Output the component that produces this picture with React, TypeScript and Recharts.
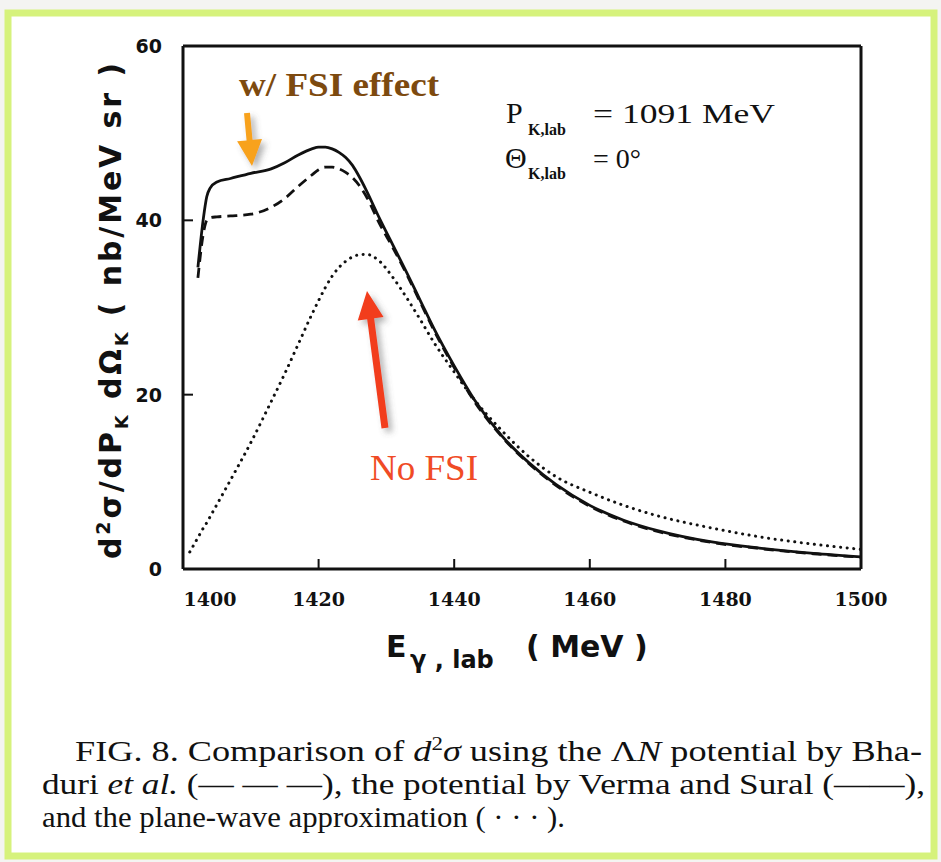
import { LineChart, Line, XAxis, YAxis } from 'recharts';

// photon lab energy (MeV)
const energy = [
  1401, 1402.2, 1403, 1403.5, 1404, 1405, 1407, 1410, 1413, 1415, 1417, 1419, 1420, 1421, 1422,
  1423, 1424, 1425, 1426, 1427, 1429, 1431, 1433, 1435, 1437, 1440, 1443, 1447, 1451, 1455,
  1460, 1465, 1470, 1478, 1485, 1493, 1500,
];

// d2sigma, Verma & Sural potential (solid)
const vermaSural = [
  null, 34.6, 40.2, 42.7, 43.7, 44.4, 44.8, 45.4, 45.9, 46.6, 47.5, 48.2, 48.4, 48.4, 48.2,
  47.8, 47.2, 46.3, 45.0, 43.5, 40.2, 37.1, 34.0, 30.8, 27.6, 23.3, 19.4, 15.3, 12.2, 9.7,
  7.3, 5.6, 4.4, 3.1, 2.4, 1.8, 1.4,
];

// d2sigma, Bhaduri et al. potential (dashed)
const bhaduri = [
  null, 33.4, 38.5, 40.0, 40.3, 40.4, 40.5, 40.7, 41.5, 42.5, 43.9, 45.2, 45.8, 46.1, 46.1,
  45.9, 45.5, 44.9, 44.0, 42.8, 39.6, 36.8, 33.8, 30.6, 27.4, 23.1, 19.2, 15.2, 12.1, 9.6,
  7.2, 5.5, 4.3, 3.05, 2.35, 1.75, 1.35,
];

// d2sigma, plane-wave approximation (dotted)
const planeWave = [
  1.95, 3.6, 4.7, 5.3, 6.0, 7.4, 10.2, 14.5, 19.2, 22.4, 25.8, 29.2, 30.8, 32.3, 33.6,
  34.6, 35.3, 35.8, 36.05, 36.1, 35.3, 33.4, 31.1, 28.6, 26.0, 22.6, 19.4, 15.9, 12.9, 10.6,
  8.8, 7.3, 6.1, 4.7, 3.7, 2.85, 2.25,
];

const energyTicks = [1400, 1420, 1440, 1460, 1480, 1500];
const sigmaTicks = [0, 20, 40, 60];

const rows = energy.map((e, i) => ({
  e,
  solid: vermaSural[i],
  dashed: bhaduri[i],
  dotted: planeWave[i],
}));

const INK = '#111';
const frame = { stroke: INK, strokeWidth: 3 };
const tickStroke = { stroke: INK, strokeWidth: 2 };

function EnergyTick({ x, y, payload }: any) {
  // first label is nudged right so it clears the "0" on the y axis
  const dx = payload.value === 1400 ? 27 : 0;
  return (
    <text x={x + dx} y={y} dy="0.75em" textAnchor="middle" fontFamily="DejaVu Serif"
      fontWeight="bold" fontSize={19} fill={INK}>
      {payload.value}
    </text>
  );
}

function SigmaTick({ x, y, payload }: any) {
  return (
    <text x={x} y={y} dy="0.36em" textAnchor="end" fontFamily="DejaVu Sans"
      fontWeight="bold" fontSize={19} fill={INK}>
      {payload.value}
    </text>
  );
}

function arrowPath(x1: number, y1: number, x2: number, y2: number, shaft: number, headW: number, headL: number) {
  const len = Math.hypot(x2 - x1, y2 - y1);
  const ux = (x2 - x1) / len;
  const uy = (y2 - y1) / len;
  const px = -uy;
  const py = ux;
  const bx = x2 - ux * headL;
  const by = y2 - uy * headL;
  const pts = [
    [x1 + (px * shaft) / 2, y1 + (py * shaft) / 2],
    [bx + (px * shaft) / 2, by + (py * shaft) / 2],
    [bx + (px * headW) / 2, by + (py * headW) / 2],
    [x2, y2],
    [bx - (px * headW) / 2, by - (py * headW) / 2],
    [bx - (px * shaft) / 2, by - (py * shaft) / 2],
    [x1 - (px * shaft) / 2, y1 - (py * shaft) / 2],
  ];
  return pts.map((p) => p.join(',')).join(' ');
}

export default function App() {
  return (
    <div style={{ position: 'absolute', left: 0, top: 0, width: 941, height: 862 }}>
      <svg width={941} height={862} style={{ position: 'absolute', left: 0, top: 0 }}>
        <rect x={0} y={0} width={941} height={862} fill="#f4f4f2" />
        <rect x={8} y={13} width={926} height={843} fill="#fff" stroke="#d6f27c" strokeWidth={7} />
      </svg>

      <div style={{ position: 'absolute', left: 0, top: 0 }}>
        <LineChart width={941} height={862} data={rows}
          margin={{ top: 45, right: 79, bottom: 253, left: 123 }}>
          <XAxis dataKey="e" type="number" domain={[1400, 1500]} ticks={energyTicks} interval={0}
            height={40} tickSize={-10} tickMargin={33} axisLine={frame} tickLine={tickStroke}
            tick={<EnergyTick />} />
          <XAxis xAxisId="top" orientation="top" dataKey="e" type="number" domain={[1400, 1500]}
            ticks={energyTicks} interval={0} height={1} tickSize={-10} axisLine={frame}
            tickLine={tickStroke} tick={false} />
          <YAxis type="number" domain={[0, 60]} ticks={sigmaTicks} interval={0} width={60}
            tickSize={-10} tickMargin={31} axisLine={frame} tickLine={tickStroke}
            tick={<SigmaTick />} />
          <YAxis yAxisId="right" orientation="right" type="number" domain={[0, 60]}
            ticks={sigmaTicks} interval={0} width={1} tickSize={-10} axisLine={frame}
            tickLine={tickStroke} tick={false} />
          <Line type="monotone" dataKey="dotted" stroke={INK} strokeWidth={3}
            strokeDasharray="0.1 6.5" strokeLinecap="round" dot={false} activeDot={false}
            isAnimationActive={false} />
          <Line type="monotone" dataKey="dashed" stroke={INK} strokeWidth={2.8}
            strokeDasharray="10 6" dot={false} activeDot={false} isAnimationActive={false} />
          <Line type="monotone" dataKey="solid" stroke={INK} strokeWidth={2.8}
            dot={false} activeDot={false} isAnimationActive={false} />
        </LineChart>
      </div>

      <svg width={941} height={862} style={{ position: 'absolute', left: 0, top: 0, pointerEvents: 'none' }}>
        <defs>
          <filter id="shade" x="-50%" y="-50%" width="200%" height="200%">
            <feDropShadow dx={4} dy={4} stdDeviation={3} floodColor="#555" floodOpacity={0.45} />
          </filter>
        </defs>

        {/* axis titles */}
        <text transform="translate(121,311) rotate(-90)" textAnchor="middle" fontFamily="DejaVu Sans"
          fontWeight="bold" fontSize={30} fill={INK} textLength={496} lengthAdjust="spacing">
          d<tspan dy={-11} fontSize={19}>2</tspan>
          <tspan dy={11}>σ/dP</tspan>
          <tspan dy={7} fontSize={18}>K</tspan>
          <tspan dy={-7}> dΩ</tspan>
          <tspan dy={7} fontSize={18}>K</tspan>
          <tspan dy={-7}> ( nb/MeV sr )</tspan>
        </text>
        <g fontFamily="DejaVu Sans" fontWeight="bold" fill={INK}>
          <text x={386} y={657} fontSize={30}>E</text>
          <text x={410} y={668} fontSize={24}>γ , lab</text>
          <text x={526} y={657} fontSize={30}>( MeV )</text>
        </g>

        {/* kinematics */}
        <g fontFamily="Liberation Serif" fill={INK}>
          <text x={506} y={123} fontSize={30}>P</text>
          <text x={528} y={135} fontSize={16} fontWeight="bold">K,lab</text>
          <text x={593} y={123} fontSize={28} textLength={182} lengthAdjust="spacingAndGlyphs">= 1091 MeV</text>
          <text x={505} y={168} fontSize={30}>Θ</text>
          <text x={528} y={179} fontSize={16} fontWeight="bold">K,lab</text>
          <text x={593} y={168} fontSize={28}>= 0°</text>
        </g>

        {/* annotations */}
        <text x={239} y={96} fontFamily="Liberation Serif" fontWeight="bold" fontSize={34}
          fill="#7d4a0f" textLength={200} lengthAdjust="spacingAndGlyphs">w/ FSI effect</text>
        <polygon points={arrowPath(247, 113, 252, 166, 6, 25, 26)} fill="#f8a21c" filter="url(#shade)" />
        <polygon points={arrowPath(385, 428, 367, 291, 7, 26, 28)} fill="#f23d1c" filter="url(#shade)" />
        <text x={370} y={480} fontFamily="Liberation Serif" fontSize={36} fill="#f04b25"
          textLength={108} lengthAdjust="spacingAndGlyphs">No FSI</text>

        {/* caption */}
        <g fontFamily="Liberation Serif" fontSize={30} fill={INK}>
          <text x={75} y={761} textLength={847} lengthAdjust="spacingAndGlyphs">
            FIG. 8.  Comparison of <tspan fontStyle="italic">d</tspan>
            <tspan dy={-11} fontSize={19}>2</tspan>
            <tspan dy={11} fontStyle="italic">σ</tspan> using the Λ<tspan fontStyle="italic">N</tspan> potential by Bha-
          </text>
          <text x={42} y={794} textLength={883} lengthAdjust="spacingAndGlyphs">
            duri <tspan fontStyle="italic">et  al.</tspan> (— — —), the potential by Verma and Sural (——),
          </text>
          <text x={42} y={827} textLength={523} lengthAdjust="spacingAndGlyphs">
            and the plane-wave approximation ( · · · ).
          </text>
        </g>
      </svg>
    </div>
  );
}
